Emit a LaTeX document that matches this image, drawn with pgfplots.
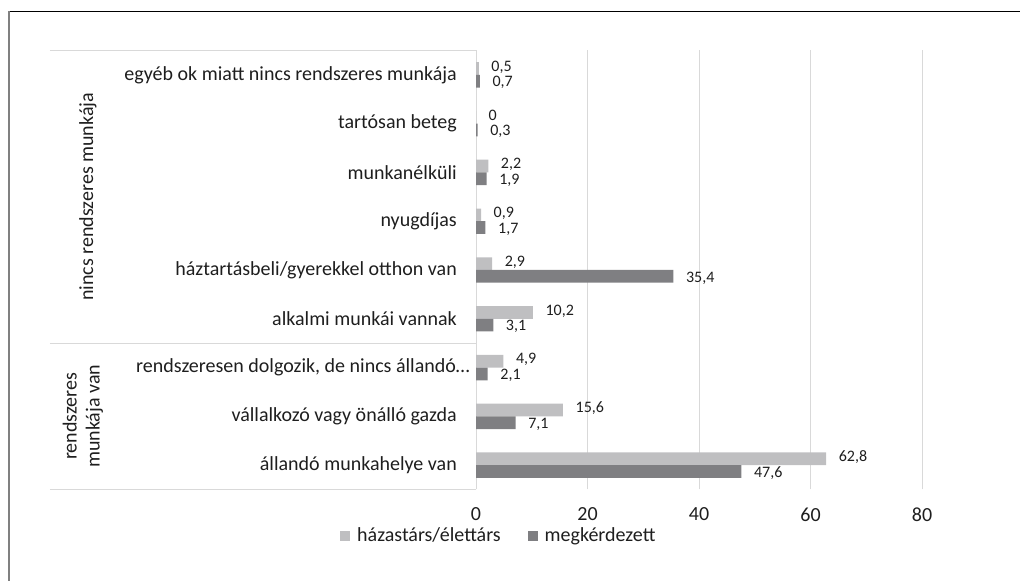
\documentclass[border=0pt]{standalone}
\usepackage{pgfplots}
\pgfplotsset{compat=1.18}
\usepackage{fontspec}
\setmainfont{Carlito}
\definecolor{lightbar}{RGB}{191,191,193}
\definecolor{darkbar}{RGB}{127,127,130}
\definecolor{gridc}{RGB}{217,217,217}
\definecolor{txt}{RGB}{30,30,30}
\definecolor{framegray}{RGB}{128,128,128}
\begin{document}
\begin{tikzpicture}[x=1pt,y=1pt]
\useasboundingbox (0,0) rectangle (1023,581);
\draw[black, line width=1pt] (8,569.5) -- (1020,569.5);
\draw[framegray, line width=1.8pt] (9,569.5) -- (9,0);
\begin{axis}[
  at={(476pt,91.5pt)}, anchor=south west,
  scale only axis, width=446pt, height=439pt,
  xbar, bar width=12.7pt,
  xmin=0, xmax=80, ymin=-0.5, ymax=8.5,
  xtick={0,20,40,60,80},
  ytick={0,...,8},
  yticklabels={állandó munkahelye van, vállalkozó vagy önálló gazda, {rendszeresen dolgozik, de nincs állandó…\hspace*{-13pt}}, alkalmi munkái vannak, háztartásbeli/gyerekkel otthon van, nyugdíjas, munkanélküli, tartósan beteg, egyéb ok miatt nincs rendszeres munkája},
  yticklabel style={anchor=east, inner sep=0pt, xshift=-19pt, font=\fontsize{20}{24}\selectfont, text=txt},
  xticklabel style={anchor=north, inner sep=0pt, yshift=-18pt, font=\fontsize{20}{24}\selectfont, text=txt},
  /pgf/number format/.cd, use comma, fixed, precision=1, assume math mode=true, /pgfplots/.cd,
  axis line style={draw=none},
  major tick length=0pt,
  xmajorgrids, grid style={gridc, line width=1pt},
  clip=false,
  point meta=x,
  nodes near coords,
  every node near coord/.append style={font=\fontsize{16}{19}\selectfont, text=txt, anchor=west, inner sep=0pt, xshift=12.5pt},
  legend columns=2,
  legend style={draw=none, fill=none, at={(-0.305,-0.105)}, anchor=west, font=\fontsize{20}{24}\selectfont, text=txt, inner sep=0pt,
    nodes={inner sep=0pt},
    /tikz/every odd column/.append style={column sep=7pt},
    /tikz/every even column/.append style={column sep=27pt}},
  legend image code/.code={\fill[#1] (0pt,-5pt) rectangle (10pt,5pt);},
]
\addplot[fill=lightbar, draw=none, bar shift=6.35pt, every node near coord/.append style={yshift=1.5pt}] coordinates {(62.8,0) (15.6,1) (4.9,2) (10.2,3) (2.9,4) (0.9,5) (2.2,6) (0,7) (0.5,8)};
\addplot[fill=darkbar, draw=none, bar shift=-6.35pt, every node near coord/.append style={yshift=-1.5pt}] coordinates {(47.6,0) (7.1,1) (2.1,2) (3.1,3) (35.4,4) (1.7,5) (1.9,6) (0.3,7) (0.7,8)};
\legend{házastárs/élettárs, megkérdezett}
\draw[gridc, line width=1pt] ([xshift=-426pt]axis cs:0,8.5) -- (axis cs:0,8.5);
\draw[gridc, line width=1pt] ([xshift=-426pt]axis cs:0,2.5) -- (axis cs:0,2.5);
\draw[gridc, line width=1pt] ([xshift=-426pt]axis cs:0,-0.5) -- (axis cs:0,-0.5);
\node[rotate=90, font=\fontsize{20}{24}\selectfont, text=txt] at ([xshift=-388pt]axis cs:0,5.5) {nincs rendszeres munkája};
\node[rotate=90, align=center, font=\fontsize{20}{23}\selectfont, text=txt] at ([xshift=-393pt]axis cs:0,1) {rendszeres\\munkája van};
\end{axis}
\end{tikzpicture}
\end{document}
